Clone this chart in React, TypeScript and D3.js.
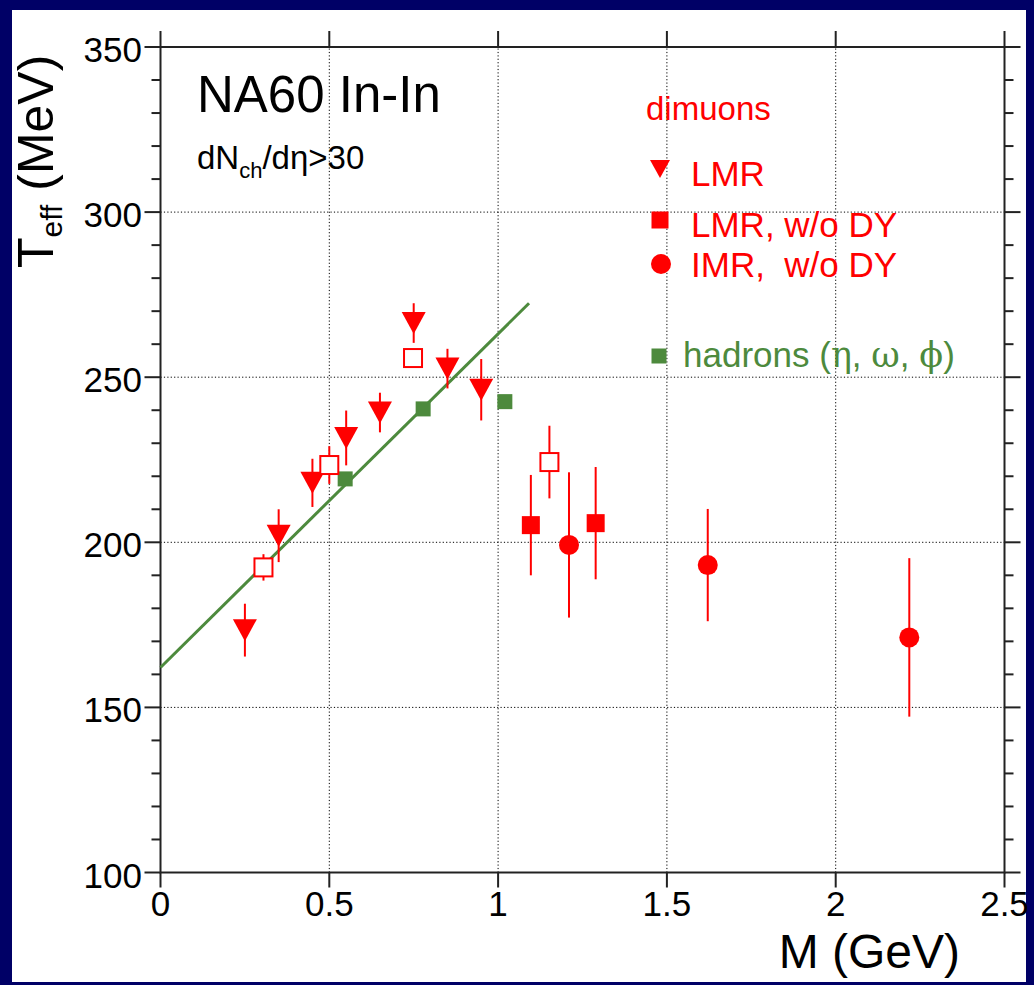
import React, { useLayoutEffect } from "react";
import * as d3 from "d3";

// ---------- data ----------
const xTickValues = [0, 0.5, 1, 1.5, 2, 2.5];
const xTickLabels = ["0", "0.5", "1", "1.5", "2", "2.5"];
const yTickValues = [100, 150, 200, 250, 300, 350];
const yTickLabels = ["100", "150", "200", "250", "300", "350"];

// LMR (filled down triangles)
const lmrM = [0.25, 0.35, 0.45, 0.55, 0.65, 0.75, 0.85, 0.95];
const lmrT = [173.4, 202.0, 218.0, 231.6, 239.3, 266.4, 252.6, 246.2];
const lmrErr = [8.0, 8.0, 7.3, 8.3, 6.0, 6.0, 6.0, 9.3];

// LMR w/o DY, open squares
const lmrOpenM = [0.305, 0.5, 0.748, 1.152];
const lmrOpenT = [192.4, 223.4, 255.8, 224.3];
const lmrOpenErr = [4.0, 5.7, 2.0, 11.0];

// LMR w/o DY, filled squares
const lmrNoDyM = [1.097, 1.289];
const lmrNoDyT = [205.2, 205.8];
const lmrNoDyErr = [15.2, 17.0];

// IMR w/o DY (circles)
const imrM = [1.21, 1.621, 2.218];
const imrT = [199.2, 193.1, 171.2];
const imrErr = [22.0, 17.0, 24.0];

// hadrons (eta, omega, phi)
const hadM = [0.547, 0.778, 1.02];
const hadT = [219.2, 240.4, 242.6];
const hadErr = [1.5, 1.5, 1.5];

// linear fit line
const fitM = [0, 1.0916];
const fitT = [162.1, 272.4];

const RED = "#ff0000";
const GREEN = "#4d8a3d";
const NAVY = "#000066";
const SANS = "'Liberation Sans', Arial, Helvetica, sans-serif";
const SERIF = "'DejaVu Serif', 'Liberation Serif', serif";

export default function App() {
  useLayoutEffect(() => {
    document.body.style.margin = "0";
  }, []);

  const W = 1034;
  const H = 985;
  const x = d3.scaleLinear().domain([0, 2.5]).range([160.5, 1004.5]);
  const y = d3.scaleLinear().domain([100, 350]).range([872.5, 47]);
  const x0 = x(0), x1 = x(2.5), y0 = y(100), y1 = y(350);
  const yMinor = y.ticks(25);

  const lineGen = d3
    .line<[number, number]>()
    .x((d) => x(d[0]))
    .y((d) => y(d[1]));
  const fitData: [number, number][] = fitM.map((m, i) => [m, fitT[i]]);

  const tri = (cx: number, cy: number, w = 24, h = 22) => {
    const p = d3.path();
    p.moveTo(cx - w / 2, cy - h / 2);
    p.lineTo(cx + w / 2, cy - h / 2);
    p.lineTo(cx, cy + h / 2);
    p.closePath();
    return p.toString();
  };

  const errBar = (m: number, t: number, e: number, color: string, key: string) => (
    <line
      key={key}
      x1={x(m)}
      x2={x(m)}
      y1={y(t + e)}
      y2={y(t - e)}
      stroke={color}
      strokeWidth={2}
    />
  );

  return (
    <svg width={W} height={H} style={{ display: "block" }} fontFamily={SANS}>
      <rect x={0} y={0} width={W} height={H} fill={NAVY} />
      <rect x={12} y={10} width={1014} height={972} fill="#ffffff" />

      {/* grid */}
      <g stroke="#000" strokeWidth={1} strokeDasharray="1.2,2.2">
        {xTickValues.slice(1, -1).map((v) => (
          <line key={"gx" + v} x1={x(v)} x2={x(v)} y1={y0} y2={y1} />
        ))}
        {yTickValues.slice(1, -1).map((v) => (
          <line key={"gy" + v} x1={x0} x2={x1} y1={y(v)} y2={y(v)} />
        ))}
      </g>

      {/* frame */}
      <rect x={x0} y={y1} width={x1 - x0} height={y0 - y1} fill="none" stroke="#222" strokeWidth={2} />

      {/* ticks */}
      <g stroke="#222" strokeWidth={2}>
        {xTickValues.map((v) => (
          <g key={"xt" + v}>
            <line x1={x(v)} x2={x(v)} y1={y0} y2={y0 + 15} />
            <line x1={x(v)} x2={x(v)} y1={y1} y2={y1 - 16} />
          </g>
        ))}
        {yMinor.map((v) => {
          const major = v % 50 === 0;
          const len = major ? 16 : 9;
          return (
            <g key={"yt" + v}>
              <line x1={x0} x2={x0 - len} y1={y(v)} y2={y(v)} />
              <line x1={x1} x2={x1 + len} y1={y(v)} y2={y(v)} />
            </g>
          );
        })}
      </g>

      {/* tick labels */}
      <g fontSize={35} fill="#000">
        {xTickValues.map((v, i) => (
          <text key={"xl" + v} x={x(v)} y={916} textAnchor="middle">
            {xTickLabels[i]}
          </text>
        ))}
        {yTickValues.map((v, i) => (
          <text key={"yl" + v} x={142} y={y(v) + 15} textAnchor="end">
            {yTickLabels[i]}
          </text>
        ))}
      </g>

      {/* axis titles */}
      <text x={960} y={968} fontSize={48} textAnchor="end" fill="#000">
        M (GeV)
      </text>
      <text transform="translate(53,268) rotate(-90)" fontSize={50} fill="#000">
        T
        <tspan fontSize={30} dy={9}>eff</tspan>
        <tspan dy={-9}> (MeV)</tspan>
      </text>

      {/* annotations */}
      <text x={197} y={112} fontSize={51} fill="#000">
        NA60 In-In
      </text>
      <text x={197} y={169} fontSize={33} fill="#000">
        dN
        <tspan fontSize={22} dy={9}>ch</tspan>
        <tspan dy={-9}>/dη&gt;30</tspan>
      </text>

      {/* fit line */}
      <path d={lineGen(fitData) || ""} fill="none" stroke={GREEN} strokeWidth={3} />

      {/* hadrons */}
      {hadM.map((m, i) => errBar(m, hadT[i], hadErr[i], GREEN, "he" + i))}
      {hadM.map((m, i) => (
        <rect key={"h" + i} x={x(m) - 7.5} y={y(hadT[i]) - 7.5} width={15} height={15} fill={GREEN} />
      ))}

      {/* LMR triangles */}
      {lmrM.map((m, i) => errBar(m, lmrT[i], lmrErr[i], RED, "le" + i))}
      {lmrM.map((m, i) => (
        <path key={"l" + i} d={tri(x(m), y(lmrT[i]))} fill={RED} />
      ))}

      {/* open squares */}
      {lmrOpenM.map((m, i) => errBar(m, lmrOpenT[i], lmrOpenErr[i], RED, "oe" + i))}
      {lmrOpenM.map((m, i) => (
        <rect
          key={"o" + i}
          x={x(m) - 9}
          y={y(lmrOpenT[i]) - 9}
          width={18}
          height={18}
          fill="#fff"
          stroke={RED}
          strokeWidth={2}
        />
      ))}

      {/* filled squares */}
      {lmrNoDyM.map((m, i) => errBar(m, lmrNoDyT[i], lmrNoDyErr[i], RED, "se" + i))}
      {lmrNoDyM.map((m, i) => (
        <rect key={"s" + i} x={x(m) - 9} y={y(lmrNoDyT[i]) - 9} width={18} height={18} fill={RED} />
      ))}

      {/* circles */}
      {imrM.map((m, i) => errBar(m, imrT[i], imrErr[i], RED, "ce" + i))}
      {imrM.map((m, i) => (
        <circle key={"c" + i} cx={x(m)} cy={y(imrT[i])} r={10} fill={RED} />
      ))}

      {/* legend */}
      <g>
        <text x={646} y={120} fontSize={33} fill={RED}>dimuons</text>
        <path d={tri(660, 169, 20, 18)} fill={RED} />
        <text x={691} y={186} fontSize={35} fill={RED}>LMR</text>
        <rect x={651.5} y={211.5} width={17} height={17} fill={RED} />
        <text x={691} y={237} fontSize={35} fill={RED}>LMR, w/o DY</text>
        <circle cx={661} cy={264} r={10} fill={RED} />
        <text x={691} y={277} fontSize={35} fill={RED} style={{ whiteSpace: "pre" }}>
          {"IMR,  w/o DY"}
        </text>
        <rect x={651.5} y={348.5} width={15} height={15} fill={GREEN} />
        <text x={683} y={367} fontSize={35} fill={GREEN}>
          hadrons (<tspan fontFamily={SERIF}>η</tspan>, <tspan fontFamily={SERIF}>ω</tspan>,{" "}
          <tspan fontFamily={SERIF}>ϕ</tspan>)
        </text>
      </g>
    </svg>
  );
}
